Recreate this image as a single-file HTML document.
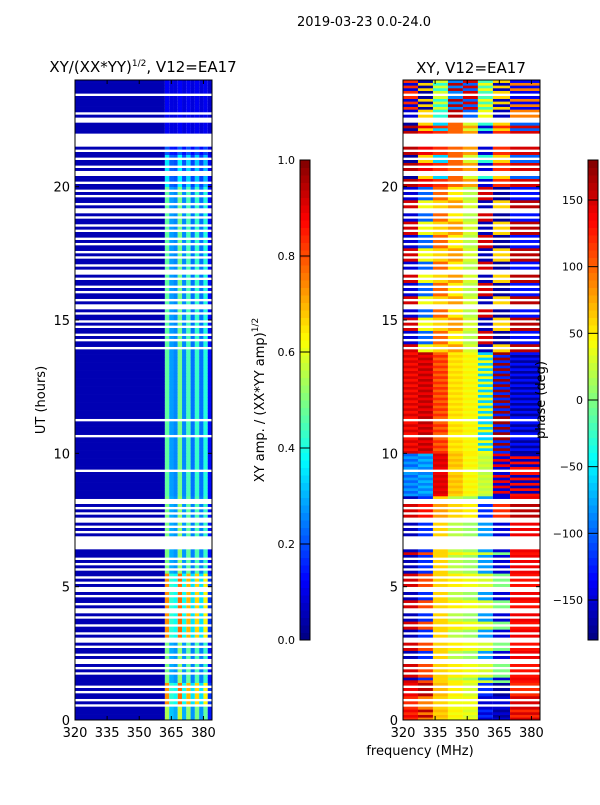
<!DOCTYPE html>
<html><head><meta charset="utf-8"><style>
body{margin:0;background:#fff;width:600px;height:800px;overflow:hidden;font-family:"Liberation Sans",sans-serif}
svg text{font-family:"DejaVu Sans","Liberation Sans",sans-serif;fill:#000}
</style></head><body>
<svg id="fig" width="600" height="800" xmlns="http://www.w3.org/2000/svg">
<text x="364" y="26" font-size="13" text-anchor="middle">2019-03-23 0.0-24.0</text>
<text x="143" y="72" font-size="15" text-anchor="middle">XY/(XX*YY)<tspan dy="-6" font-size="9">1/2</tspan><tspan dy="6">, V12=EA17</tspan></text>
<text x="471" y="73" font-size="15" text-anchor="middle">XY, V12=EA17</text>
<text transform="translate(45,400) rotate(-90)" font-size="13" text-anchor="middle">UT (hours)</text>
<text x="420" y="755" font-size="13" text-anchor="middle">frequency (MHz)</text>
<text transform="translate(264,400) rotate(-90)" font-size="13" text-anchor="middle">XY amp. / (XX*YY amp)<tspan dy="-6" font-size="9">1/2</tspan></text>
<g id="amp"></g>
<g id="ph"></g>
<g id="axes"></g>
<text transform="translate(545,400) rotate(-90)" font-size="13" text-anchor="middle">phase (deg)</text>
</svg>
<script>
// ---- data ----
const maskSegments = ["1111","1010110101","1110","10100101101001011011010010110100101011010101","11","00000","101010010101001","111111111011111111111101111101111111111111111111111111","10110101101011010010110101101001011010110101101011010010110101","101100101101","101","00000","1111","00","10111111011111"];
const rowStep = 0.1;
const ampFreqEdges = [320,362,364,366,368,370,372,374,376,378,380,382,384];
const ampColProfile = [0,0.95,0.5,0.45,1.0,0.45,0.9,0.4,0.85,0.4,0.8,0.15];
const ampLow = 0.05;
const ampBlockStart = [0,0.6,1.4,3,5.5,8.4,13.8,20,21.2,22];
const ampBlockLevel = [0.5,0.7,0.45,0.7,0.45,0.42,0.42,0.3,0.15,0.05];
const phFreqEdges = [320,327,334,341,348,355,362,370,384];
const phBlockStart = [0,1.4,6.4,8.4,10,13.8,20,22.4];
const phA = [[120,90,60,40,40,-150,-150,150],[150,110,60,50,40,30,0,130],[150,130,80,60,50,-120,120,160],[-80,-90,140,60,40,20,-150,130],[150,140,120,60,50,40,-120,-170],[150,40,60,80,30,-160,60,160],[160,140,120,100,80,-150,120,150],[-150,60,-30,160,-100,40,-160,90]];
const phB = [[140,160,70,50,30,-120,-170,120],[-160,-120,60,20,10,-80,-150,140],[-160,-120,60,20,10,-80,-150,140],[-100,-70,150,70,50,30,140,-160],[130,160,100,50,40,-60,170,-130],[-150,-100,100,50,20,150,-170,-130],[-170,60,-60,100,30,-30,60,-100],[120,-170,30,-90,150,-20,60,-140]];
const xTicks = [320,335,350,365,380];
const yTicks = [0,5,10,15,20];
const ampCbTicks = [0.0,0.2,0.4,0.6,0.8,1.0];
const phCbTicks = [-150,-100,-50,0,50,100,150];
// ---- scales ----
const NS="http://www.w3.org/2000/svg";
const T=80,B=720, P1=75, P2=403, W=137, FMIN=320, FMAX=384;
const yS=h=>B-(h/24)*(B-T);
const xS=(f,x0)=>x0+(f-FMIN)/(FMAX-FMIN)*W;
function jet(v){v=Math.max(0,Math.min(1,v));
 const r=Math.max(0,Math.min(1,1.5-Math.abs(4*v-3))),g=Math.max(0,Math.min(1,1.5-Math.abs(4*v-2))),b=Math.max(0,Math.min(1,1.5-Math.abs(4*v-1)));
 return `rgb(${Math.round(r*255)},${Math.round(g*255)},${Math.round(b*255)})`;}
function mk(t,a,p){const e=document.createElementNS(NS,t);for(const k in a)e.setAttribute(k,a[k]);p.appendChild(e);return e;}
function blk(starts,h){let i=0;for(let k=0;k<starts.length;k++)if(h>=starts[k])i=k;return i;}
const mask=maskSegments.join("");
const ampG=document.getElementById('amp'),phG=document.getElementById('ph'),ax=document.getElementById('axes');
for(let r=0;r<mask.length;r++){
 if(mask[r]!=="1")continue;
 const h0=r*rowStep,h1=h0+rowStep,y=yS(h1),hh=yS(h0)-yS(h1);
 const lvl=ampBlockLevel[blk(ampBlockStart,h0)];
 for(let c=0;c<ampFreqEdges.length-1;c++){
  const v=c===0?ampLow:lvl*ampColProfile[c]+0.07;
  const x=xS(ampFreqEdges[c],P1);
  const e=mk('rect',{x:x,y:y,width:xS(ampFreqEdges[c+1],P1)-x,height:hh+0.3,fill:jet(v)},ampG);
  
  
 }
 const pb=blk(phBlockStart,h0),prof=(r%2===0)?phA[pb]:phB[pb];
 for(let c=0;c<phFreqEdges.length-1;c++){
  const x=xS(phFreqEdges[c],P2);
  const e=mk('rect',{x:x,y:y,width:xS(phFreqEdges[c+1],P2)-x,height:hh+0.3,fill:jet((prof[c]+180)/360)},phG);
  
  
 }
}
// axes
[P1,P2].forEach((x0,pi)=>{
 const f=mk('rect',{x:x0,y:T,width:W,height:B-T,fill:'none',stroke:'#000','stroke-width':1},ax);
 
 
 xTicks.forEach(t=>{const x=xS(t,x0);
  mk('line',{x1:x,x2:x,y1:B,y2:B-4,stroke:'#000'},ax);mk('line',{x1:x,x2:x,y1:T,y2:T+4,stroke:'#000'},ax);
  const l=mk('text',{x:x,y:B+17,'font-size':13,'text-anchor':'middle'},ax);l.textContent=t;
  
  });
 yTicks.forEach(t=>{const y=yS(t);
  mk('line',{x1:x0,x2:x0+4,y1:y,y2:y,stroke:'#000'},ax);mk('line',{x1:x0+W,x2:x0+W-4,y1:y,y2:y,stroke:'#000'},ax);
  const l=mk('text',{x:x0-5,y:y+5,'font-size':13,'text-anchor':'end'},ax);l.textContent=t;
  
  });
});
// colorbars
function cbar(x0,ticks,lo,hi,name){
 const g=mk('g',{},ax);
 
 
 const N=64;for(let i=0;i<N;i++){mk('rect',{x:x0,y:640-(i+1)*480/N,width:10,height:480/N+0.5,fill:jet((i+0.5)/N)},g);}
 mk('rect',{x:x0,y:160,width:10,height:480,fill:'none',stroke:'#000'},g);
 ticks.forEach(t=>{const y=640-(t-lo)/(hi-lo)*480;
  mk('line',{x1:x0,x2:x0+10,y1:y,y2:y,stroke:'#000'},g);
  const l=mk('text',{x:x0-5,y:y+4,'font-size':11,'text-anchor':'end'},g);
  l.textContent=(hi===1)?t.toFixed(1):String(t).replace('-','\u2212');
  
  });
}
cbar(300,ampCbTicks,0,1,'amp-colorbar');
cbar(588,phCbTicks,-180,180,'phase-colorbar');
</script>
</body></html>
